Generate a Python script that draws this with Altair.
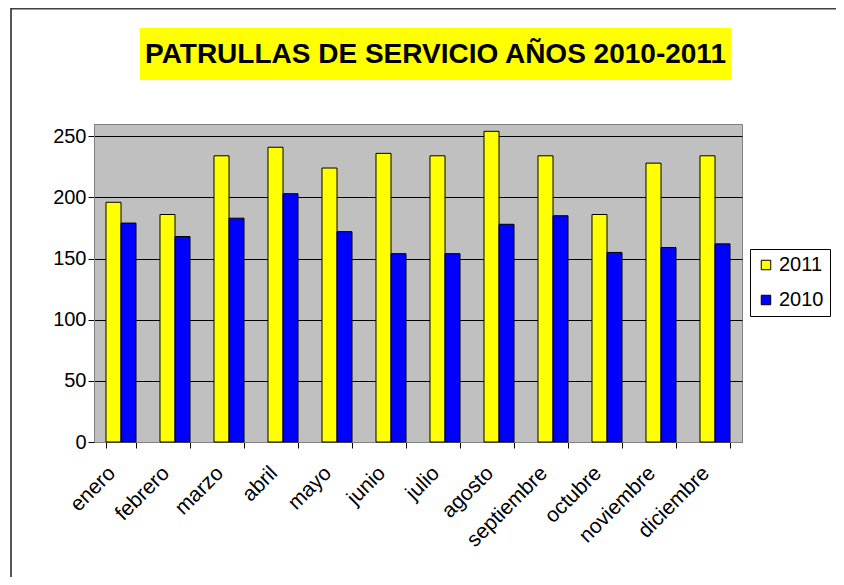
import altair as alt
import pandas as pd

months = ["enero", "febrero", "marzo", "abril", "mayo", "junio", "julio",
          "agosto", "septiembre", "octubre", "noviembre", "diciembre"]
values_2011 = [196, 186, 234, 241, 224, 236, 234, 254, 234, 186, 228, 234]
values_2010 = [179, 168, 183, 203, 172, 154, 154, 178, 185, 155, 159, 162]
series = ["2011", "2010"]
colors = ["#FFFF00", "#0000FF"]
y_ticks = [0, 50, 100, 150, 200, 250]
title_text = "PATRULLAS DE SERVICIO AÑOS 2010-2011"

rows = []
for m, a, b in zip(months, values_2011, values_2010):
    rows.append({"mes": m, "serie": "2011", "valor": a})
    rows.append({"mes": m, "serie": "2010", "valor": b})
df = pd.DataFrame(rows)

FONT = "Liberation Sans"
W, H = 648, 318

bars = alt.Chart(df).mark_bar(stroke="black", strokeWidth=1, clip=False).encode(
    x=alt.X("mes:N", sort=months, title=None,
            scale=alt.Scale(paddingInner=0.444, paddingOuter=0.222),
            axis=alt.Axis(labelAngle=-45, labelFont=FONT, labelFontSize=21,
                          labelColor="black", tickBand="extent", tickSize=6,
                          tickColor="black", domainColor="#808080",
                          labelPadding=14, labelOffset=-17, labelAlign="right",
                          labelBaseline="top")),
    xOffset=alt.XOffset("serie:N", sort=series, scale=alt.Scale(paddingInner=0)),
    y=alt.Y("valor:Q", title=None,
            scale=alt.Scale(domain=[0, 260], nice=False),
            axis=alt.Axis(values=y_ticks, labelFont=FONT, labelFontSize=20,
                          labelColor="black", tickSize=6, tickColor="black",
                          domainColor="#808080", labelPadding=2,
                          grid=True, gridColor="black", gridWidth=1)),
    color=alt.Color("serie:N", sort=series,
                    scale=alt.Scale(domain=series, range=colors),
                    legend=alt.Legend(title=None, orient="none",
                                      legendX=656, legendY=125,
                                      symbolType="square", symbolSize=90,
                                      symbolStrokeColor="black",
                                      symbolStrokeWidth=1,
                                      labelFont=FONT, labelFontSize=20,
                                      labelColor="black", labelOffset=3,
                                      strokeColor="black", padding=6,
                                      rowPadding=15, fillColor="white")),
)

one = alt.Data(values=[{}])

title_box = alt.Chart(one).mark_rect(color="#FFFF00", clip=False).encode(
    x=alt.value(46), x2=alt.value(637), y=alt.value(-96), y2=alt.value(-44)
)
title_txt = alt.Chart(one).mark_text(
    text=title_text, font=FONT, fontSize=28, fontWeight="bold", color="black",
    align="center", baseline="middle", clip=False
).encode(x=alt.value(341.5), y=alt.value(-69))

frame_top = alt.Chart(one).mark_rule(color="#404040", strokeWidth=2).encode(
    x=alt.value(-83), x2=alt.value(760), y=alt.value(-115.5)
)
frame_left = alt.Chart(one).mark_rule(color="#202020", strokeWidth=1.5).encode(
    x=alt.value(-83), y=alt.value(-116), y2=alt.value(460)
)

chart = alt.layer(frame_top, frame_left, title_box, title_txt, bars).properties(
    width=W, height=H,
    autosize=alt.AutoSizeParams(type="none"),
    padding={"left": 86, "top": 116, "right": 94, "bottom": 135},
    background="white",
).configure_view(
    fill="#C0C0C0", stroke="#808080", strokeWidth=1
)

chart.save("out.html", embed_options={"renderer": "svg", "actions": False})
